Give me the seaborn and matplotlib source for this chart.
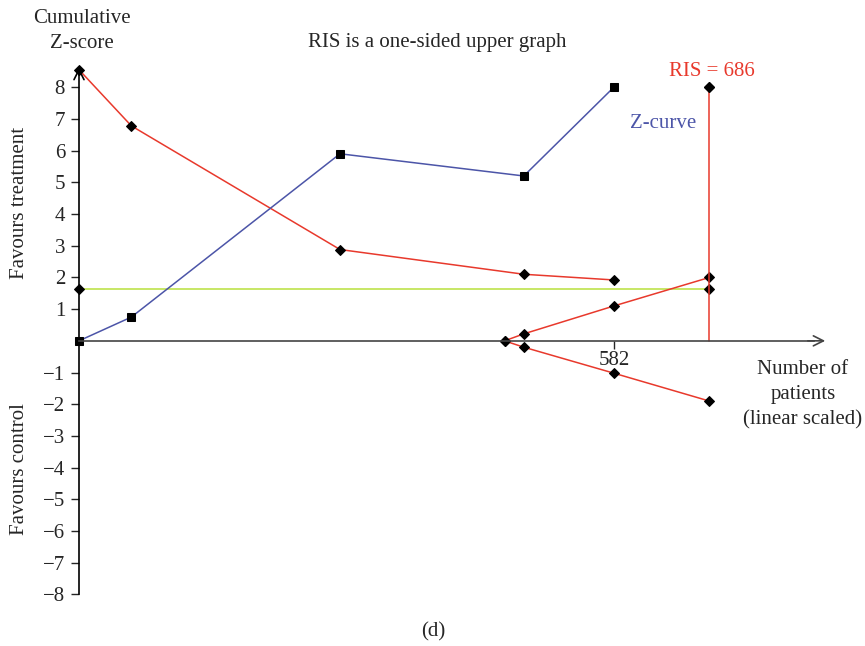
import numpy as np
import pandas as pd
import seaborn as sns
import matplotlib.pyplot as plt

# values
z_patients = [0, 57, 284, 484, 582]
z_curve = [0, 0.75, 5.9, 5.2, 8.0]

bound_patients = [0, 57, 284, 484, 582]
upper_bound = [8.55, 6.78, 2.88, 2.1, 1.92]

wedge_patients = [463, 484, 582, 686]
wedge_upper = [0, 0.22, 1.1, 2.0]
wedge_lower = [0, -0.2, -1.02, -1.9]

ris = 686
ris_top = 8
conv_boundary = 1.65
conv_patients = [0, ris]
y_ticks = [-8, -7, -6, -5, -4, -3, -2, -1, 1, 2, 3, 4, 5, 6, 7, 8]
x_ticks = [582]

RED = '#e8392c'
BLUE = '#4c55a8'
GREEN = '#b8e03c'

sns.set_style('white')
plt.rcParams['font.family'] = ['Liberation Serif', 'DejaVu Serif']
plt.rcParams['axes.unicode_minus'] = True

fig = plt.figure(figsize=(8.65, 6.46), dpi=100)
W, H = 865, 646
ax = fig.add_axes([79 / W, 1 - 604 / H, 749 / W, (604 - 65) / H])
ax.set_xlim(0, 815)
ax.set_ylim(-8.3, 8.7)

FS = 15

def fig_text(x, y, s, **kw):
    fig.text(x / W, 1 - y / H, s, fontsize=FS, **kw)

mk = dict(markersize=5.5, markerfacecolor='black', markeredgecolor='black', clip_on=False)

# conventional boundary
sns.lineplot(x=conv_patients, y=[conv_boundary, conv_boundary], color=GREEN, lw=1.1,
             marker='D', ax=ax, **mk)

# monitoring boundary
sns.lineplot(x=bound_patients, y=upper_bound, color=RED, lw=1.1, sort=False,
             marker='D', ax=ax, **mk)

# futility wedge
for w in (wedge_upper, wedge_lower):
    sns.lineplot(x=wedge_patients, y=w, color=RED, lw=1.1, sort=False,
                 marker='D', ax=ax, **mk)

# RIS line
ax.plot([ris, ris], [0, ris_top], color=RED, lw=1.1, zorder=2)
ax.plot([ris], [ris_top], marker='D', markersize=5.5, color='black', zorder=3)

# Z-curve
sns.lineplot(x=z_patients, y=z_curve, color=BLUE, lw=1.1, sort=False,
             marker='s', ax=ax, markersize=5.3, markerfacecolor='black',
             markeredgecolor='black', clip_on=False)

# axes styling
for s in ('top', 'right'):
    ax.spines[s].set_visible(False)
ax.spines['bottom'].set_position(('data', 0))
ax.spines['bottom'].set_bounds(0, 800)
ax.spines['bottom'].set_color('#444444')
ax.spines['left'].set_bounds(-8, 8.5)
ax.spines['left'].set_color('black')
ax.spines['left'].set_position(('data', 0))
for s in ('bottom', 'left'):
    ax.spines[s].set_linewidth(1.2)

ax.annotate('', xy=(815, 0), xytext=(790, 0),
            arrowprops=dict(arrowstyle='->', color='#444444', lw=1.2, mutation_scale=18))
ax.annotate('', xy=(0, 8.7), xytext=(0, 8.3),
            arrowprops=dict(arrowstyle='->', color='black', lw=1.2, mutation_scale=18))

ax.set_yticks(y_ticks)
ax.set_yticklabels([str(t).replace('-', '\u2212') for t in y_ticks])
ax.set_xticks(x_ticks)
ax.set_xticklabels([str(t) for t in x_ticks])
ax.tick_params(axis='y', direction='out', length=6, width=1, labelsize=FS, pad=4, left=True)
ax.tick_params(axis='x', direction='out', length=6, width=1, labelsize=FS, pad=1, bottom=True)
ax.set_xlabel('')
ax.set_ylabel('')

# texts
fig_text(82, 31, 'Cumulative\nZ-score', ha='center', va='center', linespacing=1.45)
fig_text(437, 43, 'RIS is a one-sided upper graph', ha='center', va='center')
fig_text(712, 72, 'RIS = 686', ha='center', va='center', color=RED)
fig_text(663, 124, 'Z-curve', ha='center', va='center', color=BLUE)
fig_text(20, 203, 'Favours treatment', ha='center', va='center', rotation=90)
fig_text(20, 469, 'Favours control', ha='center', va='center', rotation=90)
fig_text(803, 395, 'Number of\npatients\n(linear scaled)', ha='center', va='center', linespacing=1.45)
fig_text(433, 632, '(d)', ha='center', va='center')

plt.savefig('out.png', dpi=100)
